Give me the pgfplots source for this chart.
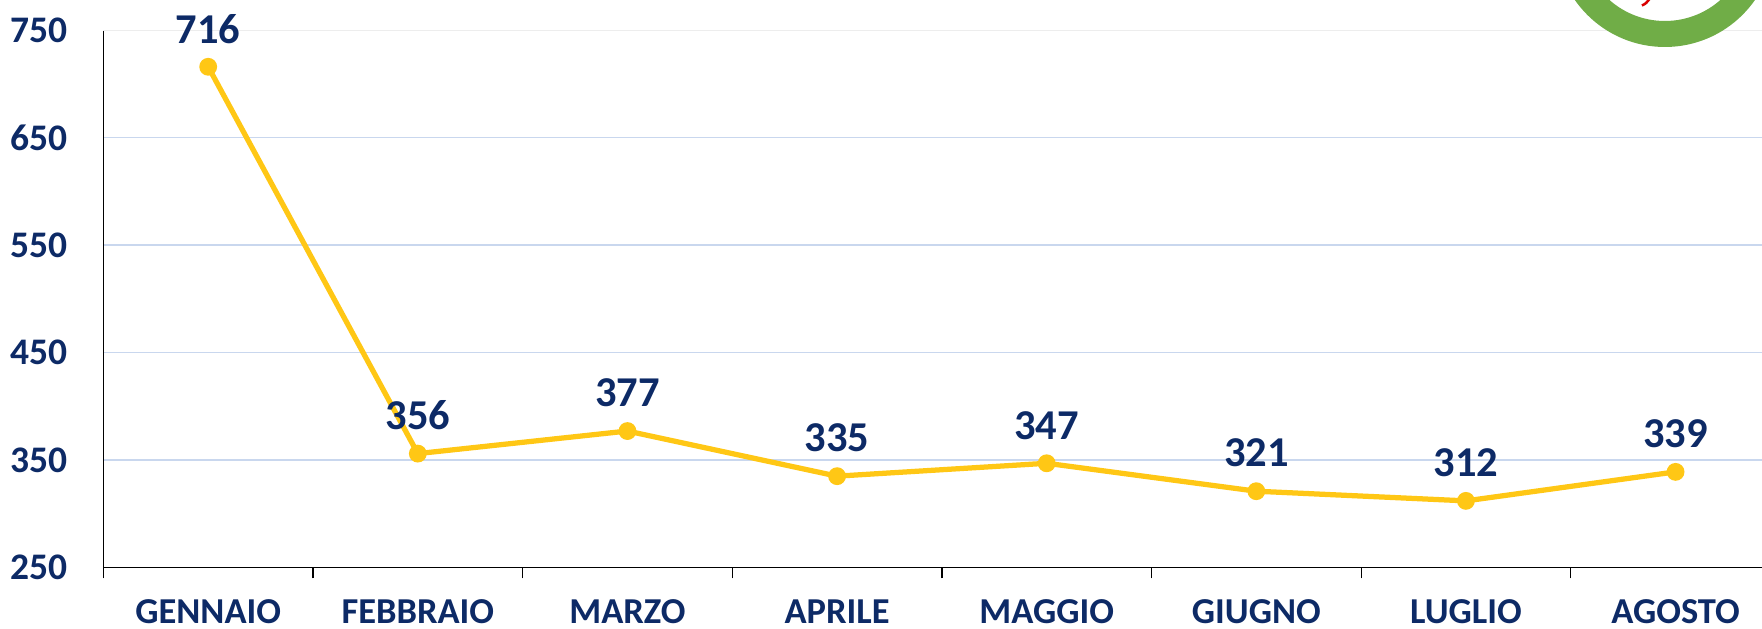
\documentclass[border=0pt]{standalone}
\usepackage{fontspec}
\setmainfont{Carlito}
\usepackage{pgfplots}
\pgfplotsset{compat=1.18}
\definecolor{navyInk}{HTML}{0D2A66}
\definecolor{lineGold}{HTML}{FFC715}
\definecolor{gridBlue}{HTML}{C9D7EE}
\definecolor{ringGreen}{HTML}{70AD47}

\begin{document}
\begin{tikzpicture}
% picture frame: 1762x629 px at 0.4pt per px, axis origin at (0,0)
\path[use as bounding box, clip] (-41.36pt,-24.6pt) rectangle (663.44pt,227pt);
\begin{axis}[
  at={(0,0)}, anchor=south west,
  scale only axis, width=670.8pt, height=214.9pt,
  xmin=-0.5, xmax=7.5, ymin=250, ymax=750,
  clip=false,
  axis x line*=bottom, axis y line*=left,
  axis line style={-, black},
  x axis line style={line width=0.7pt},
  y axis line style={line width=0.5pt},
  xtick={0,...,7},
  xticklabels={GENNAIO,FEBBRAIO,MARZO,APRILE,MAGGIO,GIUGNO,LUGLIO,AGOSTO},
  minor xtick={-0.5,0.5,...,7.5},
  major tick length=0pt, minor tick length=4.4pt, tick align=outside,
  minor tick style={black, line width=0.5pt},
  ytick={250,350,450,550,650},
  extra y ticks={750},
  extra y tick style={grid style={color=black!7, line width=0.6pt}},
  ymajorgrids, grid style={color=gridBlue, line width=0.6pt},
  /pgf/number format/assume math mode=true,
  xticklabel style={font=\fontsize{14.6}{16}\selectfont\bfseries, text=navyInk, anchor=center, inner sep=0pt, yshift=-17.6pt},
  yticklabel style={font=\fontsize{15}{17}\selectfont\bfseries, text=navyInk, anchor=east, inner sep=0pt, xshift=-14pt},
  nodes near coords,
  every node near coord/.append style={font=\fontsize{17}{19}\selectfont\bfseries, text=navyInk, anchor=center, inner sep=0pt, yshift=15.2pt},
]
\addplot[lineGold, line width=2.1pt, mark=*, mark size=2.5pt, mark options={fill=lineGold, draw=lineGold}]
  coordinates {(0,716) (1,356) (2,377) (3,335) (4,347) (5,321) (6,312) (7,339)};
\end{axis}
% logo ring in the top right corner
\draw[ringGreen, line width=10.4pt, fill=white] (624.6pt,252.1pt) circle (38.7pt);
\draw[red!85!black, line width=1pt] (615.4pt,224.8pt) .. controls (617pt,225.6pt) .. (618.6pt,227.6pt);
\end{tikzpicture}
\end{document}
